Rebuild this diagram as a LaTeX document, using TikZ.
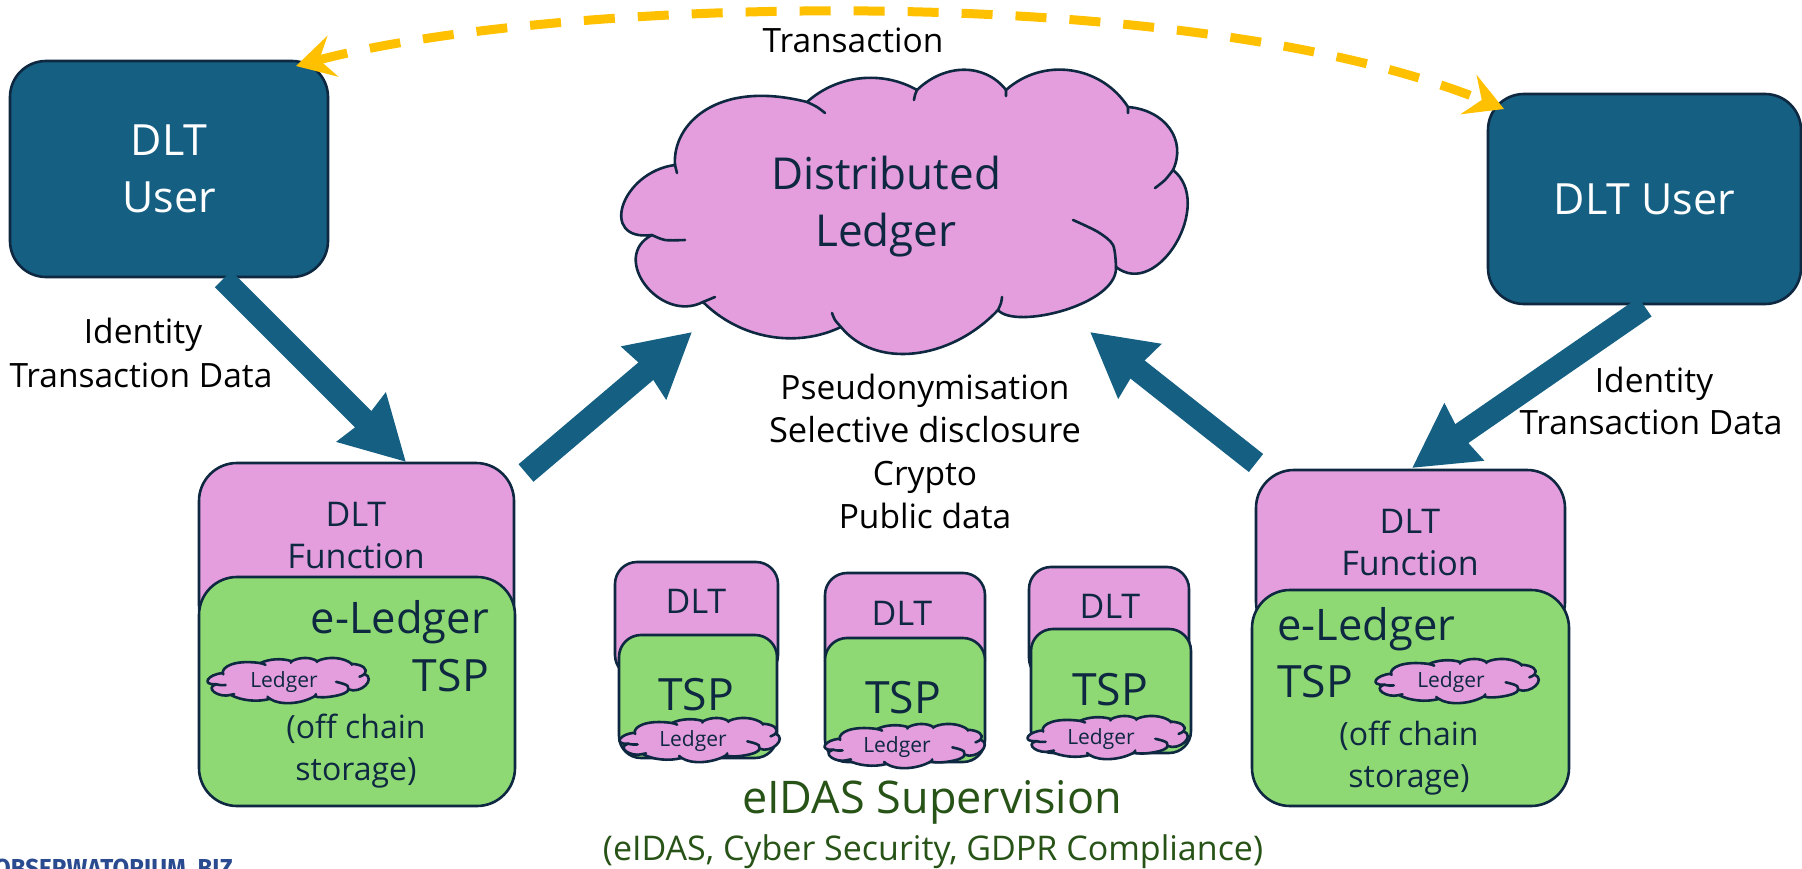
\documentclass[tikz,border=0pt]{standalone}
\usepackage{fontspec}
\setmainfont{Open Sans}
\newfontfamily\logofont{Fira Sans}
\usetikzlibrary{arrows.meta}
\definecolor{teal}{HTML}{156082}
\definecolor{navy}{HTML}{0E2841}
\definecolor{pinkf}{HTML}{E49EDD}
\definecolor{greenf}{HTML}{8ED973}
\definecolor{gold}{HTML}{FFC000}
\definecolor{dgreen}{HTML}{275317}
\definecolor{logo}{HTML}{2A4B8F}
\newcommand\fs[1]{\fontsize{#1}{#1}\selectfont}
\newcommand\cloudshape{%
  \filldraw[fill=pinkf,draw=navy,line width=2.6,line join=round]
   (675,165) .. controls (621,172) and (598,242) .. (652,235)
   .. controls (609,257) and (660,324) .. (703,302)
   .. controls (739,338) and (795,349) .. (841,327)
   .. controls (875,369) and (950,361) .. (998,310)
   .. controls (1015,330) and (1118,305) .. (1116,267)
   .. controls (1158,300) and (1215,203) .. (1173,170)
   .. controls (1187,140) and (1165,110) .. (1128,107)
   .. controls (1101,65) and (1043,57) .. (1006,90)
   .. controls (985,63) and (945,63) .. (917,90)
   .. controls (882,70) and (837,75) .. (807,102)
   .. controls (716,79) and (672,125) .. (675,165)
   -- cycle;
  \draw[navy,line width=2.6,line cap=round]
   (675,165)--(677,173)
   plot[smooth] coordinates {(652,235)(665,240)(685,240)}
   (703,302)--(715,297)
   plot[smooth] coordinates {(841,327)(835,320)(832,313)}
   plot[smooth] coordinates {(998,310)(1001,303)(1002,297)}
   plot[smooth] coordinates {(1116,267)(1113,245)(1098,232)(1073,220)}
   plot[smooth] coordinates {(1173,170)(1165,180)(1155,188)}
   (1128,107)--(1128,113)
   (1006,90)--(1006,96)
   plot[smooth] coordinates {(917,90)(915,95)(914,100)}
   plot[smooth] coordinates {(807,102)(817,107)(825,113)};
}
% \smallcloud{left}{top}{width}{height}
\newcommand\smallcloud[4]{%
  \begin{scope}[shift={(#1,#2)},xscale=#3/569,yscale=#4/283,shift={(-623,-70)}]
  \cloudshape
  \end{scope}}
\tikzset{
  x=1pt,y=-1pt,
  userbox/.style={draw=navy,line width=2.6,fill=teal,rounded corners=36,text=white,align=center,
    font=\fontsize{43}{57}\selectfont,inner sep=0,outer sep=0,anchor=north west},
  pinkbig/.style={draw=navy,line width=2.6,fill=pinkf,rounded corners=38,inner sep=0,outer sep=0,anchor=north west},
  greenbig/.style={draw=navy,line width=2.6,fill=greenf,rounded corners=38,inner sep=0,outer sep=0,anchor=north west},
  pinksmall/.style={pinkbig,rounded corners=22},
  greensmall/.style={greenbig,rounded corners=22},
  lab/.style={anchor=base,inner sep=0,text=black,font=\fs{33.5}},
  dark/.style={anchor=base,inner sep=0,text=navy,font=\fs{34}},
  darkmid/.style={anchor=base,inner sep=0,text=navy,font=\fs{32}},
  darkbig/.style={anchor=base,inner sep=0,text=navy,font=\fs{44.5}},
  ledgerlab/.style={anchor=base,inner sep=0,text=navy,font=\fs{21}},
  flow/.style={draw=teal,line width=23,-{Stealth[length=62,width=66,inset=3]}},
  txline/.style={draw=gold,line width=9,dash pattern=on 31 off 23,
    {Stealth[length=38,width=42,inset=14]}-{Stealth[length=38,width=42,inset=14]}},
}
\begin{document}
\begin{tikzpicture}
\useasboundingbox (0,0) rectangle (1802,869);
\clip (0,0) rectangle (1802,869);

% users
\node[userbox,minimum width=318,minimum height=216] (user1) at (10,61) {DLT\\User};
\node[userbox,minimum width=313,minimum height=210] (user2) at (1488,94) {DLT User};

% big cloud
\cloudshape
\node[darkbig,font=\fs{44}] (dl1) at (886,190) {Distributed};
\node[darkbig,font=\fs{44}] (dl2) at (886,247) {Ledger};

% left stack
\node[pinkbig,minimum width=315,minimum height=180] (pinkL) at (199,463) {};
\node[greenbig,minimum width=316,minimum height=229] (greenL) at (199,577) {};
\node[dark] (l1) at (356,526) {DLT};
\node[dark] (l2) at (356,568) {Function};
\node[darkbig,anchor=base east,font=\fs{43.5}] (l3) at (489,633) {e-Ledger};
\node[darkbig,anchor=base east] (l4) at (489,691) {TSP};
\smallcloud{208}{658}{162}{45}
\node[ledgerlab] (l5) at (284,687) {Ledger};
\node[darkmid] (l6) at (356,738) {(off chain};
\node[darkmid] (l7) at (356,780) {storage)};

% middle stacks
\node[pinksmall,minimum width=163,minimum height=115] (pinkA) at (615,562) {};
\node[greensmall,minimum width=158,minimum height=123] (greenA) at (619,635) {};
\node[dark] (a1) at (696,613) {DLT};
\node[darkbig] (a2) at (696,710) {TSP};
\smallcloud{620}{718}{161}{44}
\node[ledgerlab] (a3) at (693,746) {Ledger};

\node[pinksmall,minimum width=160,minimum height=107] (pinkB) at (825,573) {};
\node[greensmall,minimum width=160,minimum height=124] (greenB) at (825,638) {};
\node[dark] (b1) at (902,625) {DLT};
\node[darkbig] (b2) at (903,713) {TSP};
\smallcloud{825}{724}{161}{44}
\node[ledgerlab] (b3) at (897,752) {Ledger};

\node[pinksmall,minimum width=160,minimum height=113] (pinkC) at (1029,567) {};
\node[greensmall,minimum width=160,minimum height=124] (greenC) at (1031,629) {};
\node[dark] (c1) at (1110,618) {DLT};
\node[darkbig] (c2) at (1110,705) {TSP};
\smallcloud{1028}{716}{161}{43}
\node[ledgerlab] (c3) at (1101,744) {Ledger};

% right stack
\node[pinkbig,minimum width=309,minimum height=170] (pinkR) at (1256,470) {};
\node[greenbig,minimum width=317,minimum height=216] (greenR) at (1252,590) {};
\node[dark] (r1) at (1410,533) {DLT};
\node[dark] (r2) at (1410,575) {Function};
\node[darkbig,anchor=base west,font=\fs{43.5}] (r3) at (1277,640) {e-Ledger};
\node[darkbig,anchor=base west] (r4) at (1277,697) {TSP};
\smallcloud{1376}{659}{164}{44}
\node[ledgerlab] (r5) at (1451,687) {Ledger};
\node[darkmid] (r6) at (1409,745) {(off chain};
\node[darkmid] (r7) at (1409,787) {storage)};

% labels
\node[lab] (tx) at (853,53) {Transaction};
\node[lab] (id1) at (143,343) {Identity};
\node[lab] (td1) at (141,387) {Transaction Data};
\node[lab] (id2) at (1654,392) {Identity};
\node[lab] (td2) at (1651,434) {Transaction Data};
\node[lab] (p1) at (925,399) {Pseudonymisation};
\node[lab,font=\fs{34.5}] (p2) at (925,442) {Selective disclosure};
\node[lab] (p3) at (925,485) {Crypto};
\node[lab] (p4) at (925,528) {Public data};
\node[anchor=base,inner sep=0,text=dgreen,font=\fs{45}] (sup1) at (932,813) {eIDAS Supervision};
\node[anchor=base,inner sep=0,text=dgreen,font=\fs{34}] (sup2) at (933,860) {(eIDAS, Cyber Security, GDPR Compliance)};
\node[anchor=base west,inner sep=0,text=logo,font=\logofont\bfseries\fs{26},xscale=.93] (site) at (-6,877) {OBSERWATORIUM. BIZ};

% connectors
\coordinate (a1s) at (223,279);
\coordinate (a1e) at (406,462);
\coordinate (a2s) at (526,473);
\coordinate (a2e) at (692,332);
\coordinate (a3s) at (1256,463);
\coordinate (a3e) at (1090,332);
\coordinate (a4s) at (1645,307);
\coordinate (a4e) at (1412,468);
\coordinate (txa) at (296,66);
\coordinate (txb) at (1504,109);
\draw[flow] (a1s) -- (a1e);
\draw[flow] (a2s) -- (a2e);
\draw[flow] (a3s) -- (a3e);
\draw[flow] (a4s) -- (a4e);
\draw[txline] (txa) .. controls (560,-4) and (1187,-20) .. (txb);
\end{tikzpicture}
\end{document}
